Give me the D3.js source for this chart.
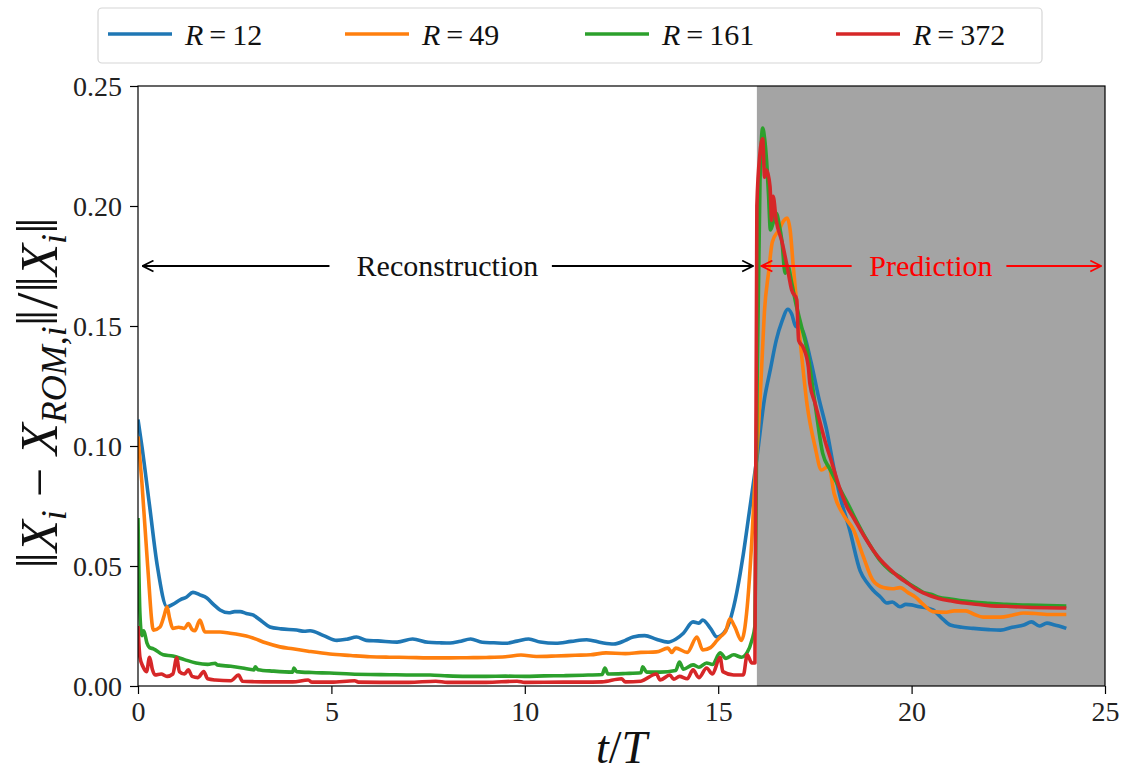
<!DOCTYPE html>
<html><head><meta charset="utf-8">
<script src="https://cdn.jsdelivr.net/npm/d3@7"></script>
<style>
body{margin:0;background:#fff;}
svg{display:block;}
svg text{font-family:"Liberation Serif","Times New Roman",Times,"DejaVu Serif",serif !important;}
</style>
</head><body>
<svg id="chart" width="1125" height="778"></svg>
<script>
// ---- data ----
const seriesNames = ["R = 12", "R = 49", "R = 161", "R = 372"];
const seriesR = ["12", "49", "161", "372"];
const xTicks = [0, 5, 10, 15, 20, 25];
const yTicks = [0.00, 0.05, 0.10, 0.15, 0.20, 0.25];
const yTickLabels = ["0.00", "0.05", "0.10", "0.15", "0.20", "0.25"];
const xTickLabels = ["0", "5", "10", "15", "20", "25"];
const predictionStart = 16;

const r12 = [[0,0.111],[0.1,0.1],[0.3,0.075],[0.5,0.05],[0.75,0.033],[0.9,0.034],[1.1,0.036],[1.25,0.037],[1.42,0.039],[1.6,0.038],[1.78,0.0367],[1.95,0.034],[2.12,0.0317],[2.35,0.0305],[2.5,0.031],[2.64,0.031],[2.8,0.0302],[2.97,0.0296],[3.2,0.027],[3.41,0.0246],[3.7,0.0238],[4.1,0.0233],[4.3,0.0228],[4.45,0.023],[4.8,0.021],[5.14,0.019],[5.4,0.0195],[5.65,0.0204],[5.9,0.019],[6.2,0.0188],[6.7,0.0183],[7.1,0.0196],[7.5,0.0182],[7.8,0.018],[8.07,0.0179],[8.3,0.0185],[8.6,0.0196],[8.9,0.0182],[9.2,0.018],[9.5,0.0178],[9.8,0.0187],[10.1,0.0196],[10.4,0.0183],[10.8,0.0178],[11.2,0.0186],[11.6,0.0193],[12.0,0.018],[12.3,0.0175],[12.6,0.019],[12.8,0.0204],[13.1,0.021],[13.4,0.0195],[13.7,0.0183],[13.9,0.0195],[14.1,0.022],[14.35,0.0267],[14.5,0.0262],[14.6,0.0275],[14.8,0.024],[14.97,0.0204],[15.2,0.0233],[15.4,0.033],[15.57,0.047],[15.65,0.055],[15.8,0.072],[16.0,0.095],[16.2,0.12],[16.35,0.132],[16.5,0.144],[16.65,0.152],[16.8,0.157],[16.9,0.155],[17.0,0.15],[17.15,0.149],[17.4,0.135],[17.6,0.12],[17.8,0.107],[18.0,0.09],[18.15,0.079],[18.4,0.065],[18.67,0.048],[18.85,0.043],[19.0,0.04],[19.2,0.037],[19.36,0.0346],[19.5,0.035],[19.7,0.033],[19.85,0.034],[20.0,0.0338],[20.2,0.033],[20.4,0.0325],[20.55,0.0317],[20.8,0.028],[21.0,0.0254],[21.3,0.0245],[21.6,0.024],[22.0,0.0235],[22.3,0.0233],[22.6,0.0245],[22.9,0.0254],[23.1,0.0267],[23.3,0.025],[23.5,0.0262],[23.7,0.0254],[23.85,0.0248],[24.0,0.024]];

const r49 = [[0,0.104],[0.1,0.085],[0.25,0.05],[0.4,0.0233],[0.57,0.0246],[0.67,0.029],[0.75,0.033],[0.82,0.028],[0.9,0.024],[1.05,0.0245],[1.2,0.024],[1.3,0.026],[1.4,0.0235],[1.47,0.023],[1.6,0.0275],[1.73,0.0225],[1.9,0.0225],[2.12,0.0225],[2.38,0.022],[2.6,0.0215],[2.8,0.0208],[2.97,0.02],[3.3,0.018],[3.67,0.0163],[4.0,0.0155],[4.4,0.0145],[4.96,0.0133],[5.5,0.0127],[6.0,0.0122],[6.5,0.012],[7.0,0.0119],[7.5,0.0117],[8.0,0.0117],[8.5,0.0118],[9.0,0.0119],[9.5,0.0122],[9.9,0.0129],[10.3,0.0123],[10.8,0.0125],[11.3,0.0128],[11.7,0.013],[12.1,0.0138],[12.6,0.0135],[13.0,0.014],[13.4,0.0142],[13.7,0.0158],[13.8,0.014],[13.9,0.0158],[14.2,0.014],[14.45,0.0204],[14.6,0.015],[14.8,0.016],[14.97,0.019],[15.05,0.0204],[15.2,0.023],[15.3,0.028],[15.43,0.0246],[15.6,0.019],[15.75,0.033],[15.87,0.061],[15.95,0.086],[16.05,0.11],[16.13,0.135],[16.2,0.157],[16.3,0.172],[16.4,0.185],[16.57,0.19],[16.7,0.194],[16.78,0.195],[16.86,0.19],[16.94,0.175],[17.1,0.147],[17.3,0.117],[17.5,0.1],[17.67,0.09],[17.78,0.091],[17.85,0.092],[18.0,0.08],[18.25,0.071],[18.5,0.065],[18.75,0.054],[19.0,0.044],[19.27,0.041],[19.5,0.0405],[19.7,0.041],[19.9,0.039],[20.1,0.037],[20.3,0.034],[20.55,0.031],[20.9,0.0307],[21.1,0.0313],[21.4,0.0313],[21.6,0.03],[21.85,0.0287],[22.3,0.0287],[22.6,0.0295],[22.9,0.0304],[23.2,0.0302],[23.6,0.0298],[24.0,0.0298]];

const r161 = [[0,0.07],[0.05,0.03],[0.1,0.021],[0.15,0.023],[0.23,0.018],[0.3,0.016],[0.4,0.0155],[0.65,0.013],[0.9,0.0125],[1.2,0.011],[1.5,0.0096],[1.8,0.009],[2.0,0.0095],[2.05,0.0088],[2.4,0.0082],[2.7,0.0075],[3.0,0.0067],[3.03,0.008],[3.1,0.0068],[3.5,0.0062],[4.0,0.0058],[4.03,0.0075],[4.1,0.006],[4.5,0.0056],[4.96,0.0054],[5.5,0.005],[6.0,0.0048],[6.5,0.0047],[7.0,0.0046],[7.55,0.0046],[8.0,0.0042],[8.5,0.004],[9.0,0.004],[9.5,0.0041],[10.0,0.004],[10.5,0.0042],[11.0,0.0043],[11.5,0.0045],[12.0,0.0048],[12.07,0.0075],[12.15,0.005],[12.6,0.0052],[13.0,0.0055],[13.05,0.008],[13.15,0.0058],[13.5,0.0058],[13.9,0.0065],[14.0,0.01],[14.1,0.007],[14.35,0.0088],[14.5,0.0078],[14.7,0.0096],[14.85,0.009],[15.05,0.0138],[15.2,0.0115],[15.4,0.013],[15.6,0.012],[15.75,0.014],[15.87,0.019],[15.95,0.025],[16.0,0.12],[16.08,0.21],[16.15,0.2325],[16.2,0.228],[16.25,0.219],[16.3,0.205],[16.35,0.19],[16.42,0.193],[16.5,0.197],[16.58,0.192],[16.65,0.185],[16.73,0.172],[16.8,0.175],[16.9,0.168],[17.0,0.16],[17.15,0.15],[17.3,0.14],[17.5,0.118],[17.7,0.097],[17.9,0.09],[18.15,0.082],[18.35,0.076],[18.6,0.068],[18.8,0.062],[19.0,0.0567],[19.2,0.052],[19.45,0.048],[19.7,0.0455],[19.9,0.043],[20.1,0.041],[20.3,0.039],[20.5,0.0382],[20.7,0.037],[21.0,0.0362],[21.3,0.0355],[21.6,0.035],[22.0,0.0345],[22.45,0.034],[23.0,0.0337],[23.5,0.0335],[24.0,0.0333]];

const r372 = [[0,0.025],[0.05,0.012],[0.13,0.008],[0.22,0.006],[0.3,0.012],[0.37,0.007],[0.44,0.0046],[0.6,0.005],[0.75,0.004],[0.9,0.005],[1.0,0.0117],[1.07,0.006],[1.2,0.005],[1.3,0.0067],[1.4,0.004],[1.55,0.0035],[1.7,0.006],[1.8,0.003],[2.0,0.0025],[2.4,0.0022],[2.6,0.0046],[2.7,0.002],[3.0,0.0018],[3.5,0.0017],[4.0,0.0017],[4.4,0.0025],[4.5,0.0016],[5.0,0.0016],[5.6,0.0022],[5.7,0.0016],[6.5,0.0015],[7.0,0.0015],[7.7,0.002],[8.0,0.0015],[9.0,0.0015],[9.8,0.002],[10.0,0.0015],[11.0,0.0016],[11.5,0.0016],[12.0,0.0017],[12.5,0.003],[12.6,0.0017],[13.0,0.002],[13.4,0.005],[13.5,0.0025],[13.75,0.0046],[13.85,0.0028],[14.0,0.004],[14.2,0.003],[14.35,0.0067],[14.5,0.0035],[14.7,0.0075],[14.85,0.005],[15.05,0.012],[15.12,0.006],[15.4,0.0046],[15.65,0.0046],[15.75,0.013],[15.87,0.0096],[15.95,0.0096],[16.0,0.2],[16.08,0.222],[16.15,0.228],[16.2,0.212],[16.25,0.215],[16.34,0.208],[16.38,0.194],[16.42,0.204],[16.5,0.194],[16.65,0.185],[16.78,0.175],[16.9,0.165],[17.03,0.161],[17.08,0.144],[17.2,0.141],[17.33,0.133],[17.37,0.126],[17.5,0.118],[17.63,0.11],[17.8,0.1],[17.9,0.095],[18.15,0.082],[18.33,0.0746],[18.5,0.07],[18.75,0.063],[19.0,0.0567],[19.2,0.0525],[19.45,0.0485],[19.7,0.045],[19.9,0.0428],[20.1,0.0405],[20.3,0.0388],[20.5,0.0375],[20.7,0.0365],[21.0,0.0355],[21.3,0.0347],[21.6,0.0342],[22.0,0.0335],[22.45,0.0332],[23.0,0.0328],[23.5,0.0326],[24.0,0.0325]];

const seriesData = [r12, r49, r161, r372];
const colors = ["#1f77b4", "#ff7f0e", "#2ca02c", "#d62728"];

// ---- layout ----
const svg = d3.select("#chart");
const M = {left: 138, right: 1105, top: 86, bottom: 686};
const x = d3.scaleLinear().domain([0, 25]).range([M.left, M.right]);
const y = d3.scaleLinear().domain([0, 0.25]).range([M.bottom, M.top]);

svg.append("defs").append("clipPath").attr("id", "clip")
  .append("rect").attr("x", M.left).attr("y", M.top)
  .attr("width", M.right - M.left).attr("height", M.bottom - M.top);

// prediction shading
svg.append("rect")
  .attr("x", x(predictionStart)).attr("y", y(0.25))
  .attr("width", x(25) - x(predictionStart)).attr("height", y(0) - y(0.25))
  .attr("fill", "#a4a4a4");

// lines
const line = d3.line().x(d => x(d[0])).y(d => y(d[1])).curve(d3.curveMonotoneX);
const g = svg.append("g").attr("clip-path", "url(#clip)");
seriesData.forEach((s, i) => {
  g.append("path").datum(s).attr("d", line)
    .attr("fill", "none").attr("stroke", colors[i])
    .attr("stroke-width", 3.6).attr("stroke-linejoin", "round").attr("stroke-linecap", "butt");
});

// axes
const xAxis = d3.axisBottom(x).tickValues(xTicks).tickFormat((d, i) => xTickLabels[i]).tickSize(8).tickPadding(6);
const yAxis = d3.axisLeft(y).tickValues(yTicks).tickFormat((d, i) => yTickLabels[i]).tickSize(8).tickPadding(8);
const gx = svg.append("g").attr("transform", `translate(0,${M.bottom})`).call(xAxis);
const gy = svg.append("g").attr("transform", `translate(${M.left},0)`).call(yAxis);
[gx, gy].forEach(a => {
  a.select(".domain").remove();
  a.selectAll(".tick line").attr("stroke", "#000").attr("stroke-width", 1.2);
  a.selectAll(".tick text").attr("font-size", 28).attr("fill", "#222");
});
gx.selectAll(".tick text").attr("dy", "0.75em");
gy.selectAll(".tick text").attr("dy", "0.34em");

// frame
svg.append("rect").attr("x", M.left).attr("y", M.top)
  .attr("width", M.right - M.left).attr("height", M.bottom - M.top)
  .attr("fill", "none").attr("stroke", "#000").attr("stroke-width", 1.2);

// arrows
const defs = svg.select("defs");
function marker(id, col) {
  defs.append("marker").attr("id", id).attr("viewBox", "0 0 12 12")
    .attr("refX", 11).attr("refY", 6).attr("markerWidth", 13).attr("markerHeight", 13)
    .attr("markerUnits", "userSpaceOnUse").attr("orient", "auto")
    .append("path").attr("d", "M1,1 L11,6 L1,11").attr("fill", "none")
    .attr("stroke", col).attr("stroke-width", 1.6);
}
marker("ahk", "#000");
marker("ahr", "#ff0000");
const arrowY = 0.175;
function arrow(t0, t1, col, mk) {
  svg.append("line").attr("x1", x(t0)).attr("x2", x(t1)).attr("y1", y(arrowY)).attr("y2", y(arrowY))
    .attr("stroke", col).attr("stroke-width", 1.8).attr("marker-end", `url(#${mk})`);
}
arrow(4.95, 0.12, "#000", "ahk");
arrow(10.7, 15.9, "#000", "ahk");
arrow(18.45, 16.12, "#ff0000", "ahr");
arrow(22.45, 24.9, "#ff0000", "ahr");
svg.append("text").attr("x", x(8.0)).attr("y", y(arrowY)).attr("dy", "0.33em")
  .attr("text-anchor", "middle").attr("font-size", 30).attr("fill", "#111")
  .text("Reconstruction");
svg.append("text").attr("x", x(20.5)).attr("y", y(arrowY)).attr("dy", "0.33em")
  .attr("text-anchor", "middle").attr("font-size", 30).attr("fill", "#ff0000")
  .text("Prediction");

// axis titles
const xt = svg.append("text").attr("x", (M.left + M.right) / 2).attr("y", 763)
  .attr("text-anchor", "middle").attr("font-size", 46).attr("fill", "#111");
xt.append("tspan").attr("font-style", "italic").text("t");
xt.append("tspan").text("/");
xt.append("tspan").attr("font-style", "italic").text("T");

const yt = svg.append("text").attr("transform", `translate(57,393) rotate(-90)`)
  .attr("text-anchor", "middle").attr("font-size", 52).attr("fill", "#111");
yt.append("tspan").attr("font-size", 60).text("\u2016");
yt.append("tspan").attr("font-style", "italic").text("X");
yt.append("tspan").attr("font-style", "italic").attr("font-size", 36).attr("dy", 9).text("i");
yt.append("tspan").attr("dy", -9).text(" \u2212 ");
yt.append("tspan").attr("font-style", "italic").text("X");
yt.append("tspan").attr("font-style", "italic").attr("font-size", 36).attr("dy", 9).text("ROM,i");
yt.append("tspan").attr("dy", -9).attr("font-size", 60).text("\u2016/\u2016");
yt.append("tspan").attr("font-style", "italic").text("X");
yt.append("tspan").attr("font-style", "italic").attr("font-size", 36).attr("dy", 9).text("i");
yt.append("tspan").attr("dy", -9).attr("font-size", 60).text("\u2016");

// legend
const lg = svg.append("g");
lg.append("rect").attr("x", 98).attr("y", 8).attr("width", 944).attr("height", 55)
  .attr("rx", 4).attr("fill", "#fff").attr("stroke", "#d6d6d6").attr("stroke-width", 1.2);
const legX = [108, 345, 585, 836];
seriesNames.forEach((n, i) => {
  lg.append("line").attr("x1", legX[i]).attr("x2", legX[i] + 64).attr("y1", 34).attr("y2", 34)
    .attr("stroke", colors[i]).attr("stroke-width", 3.6);
  const t = lg.append("text").attr("x", legX[i] + 77).attr("y", 34).attr("dy", "0.35em")
    .attr("font-size", 30).attr("fill", "#111");
  t.append("tspan").attr("font-style", "italic").text("R");
  t.append("tspan").text("\u2009=\u2009" + seriesR[i]);
});
</script>
</body></html>
